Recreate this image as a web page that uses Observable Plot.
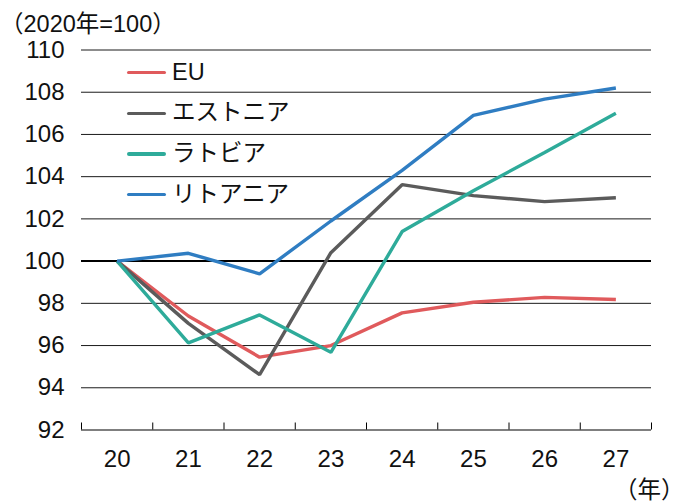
<!DOCTYPE html>
<html>
<head>
<meta charset="utf-8">
<script src="https://cdn.jsdelivr.net/npm/d3@7"></script>
<script src="https://cdn.jsdelivr.net/npm/@observablehq/plot@0.6"></script>
<style>
  html, body { margin: 0; padding: 0; background: #fff; }
  #chart {
    position: relative; width: 687px; height: 503px; overflow: hidden;
    font-family: "Liberation Sans", Arial, "Noto Sans CJK JP", sans-serif;
    color: #111;
  }
  #chart svg { position: absolute; left: 0; top: 0; }
  .note { position: absolute; font-size: 23.5px; white-space: nowrap; line-height: 1; }
  .legend { position: absolute; left: 127px; top: 52px; }
  .legend .item { display: flex; align-items: center; height: 40.8px; }
  .legend .swatch { width: 39px; height: 3.4px; border-radius: 2px; margin-right: 6px; }
  .legend .label { font-size: 23.5px; line-height: 1; white-space: nowrap; }
</style>
</head>
<body>
<div id="chart"></div>
<script>
// Year (last two digits) and index values, 2020 = 100
const years = [20, 21, 22, 23, 24, 25, 26, 27];
const eu = [100, 97.4, 95.45, 96.0, 97.55, 98.05, 98.28, 98.18];
const estonia = [100, 97.05, 94.62, 100.4, 103.62, 103.1, 102.82, 103.0];
const latvia = [100, 96.13, 97.45, 95.68, 101.4, 103.33, 105.15, 107.0];
const lithuania = [100, 100.37, 99.4, 101.9, 104.3, 106.9, 107.67, 108.2];

const seriesNames = ["EU", "エストニア", "ラトビア", "リトアニア"];
const seriesColors = ["#e05a5c", "#5b5b5b", "#2eab9a", "#2f7dc2"];
const seriesValues = [eu, estonia, latvia, lithuania];

const yTicks = [92, 94, 96, 98, 100, 102, 104, 106, 108, 110];
const title = "（2020年=100）";
const xUnit = "（年）";

// long-format table for the line mark
const rows = seriesValues.flatMap((vals, i) =>
  vals.map((v, j) => ({series: seriesNames[i], year: years[j], value: v}))
);

const font = '"Liberation Sans", Arial, "Noto Sans CJK JP", sans-serif';
// band edges between years, used for the baseline tick marks
const bounds = years.map(y => y - 0.5).concat([years[years.length - 1] + 0.5]);

const plot = Plot.plot({
  width: 687,
  height: 503,
  marginLeft: 81,
  marginRight: 36,
  marginTop: 49.5,
  marginBottom: 73.5,
  style: {fontFamily: font, fontSize: "24px", color: "#111", background: "transparent"},
  x: {type: "linear", domain: [bounds[0], bounds[bounds.length - 1]]},
  y: {domain: [92, 110]},
  color: {domain: seriesNames, range: seriesColors},
  marks: [
    Plot.ruleY(yTicks.filter(t => t !== 92 && t !== 100), {stroke: "#1a1a1a", strokeWidth: 1}),
    Plot.ruleY([100], {stroke: "#000", strokeWidth: 2}),
    Plot.ruleY([92], {stroke: "#000", strokeWidth: 1.2}),
    Plot.axisY({ticks: yTicks, tickSize: 0, tickPadding: 17, tickFormat: d => String(d), label: null, fontSize: 24}),
    Plot.axisX({ticks: bounds, tickSize: -7, tickFormat: () => "", label: null, stroke: "#000"}),
    Plot.axisX({ticks: years, tickSize: 0, tickPadding: 20, tickFormat: d => String(d), label: null, fontSize: 24}),
    Plot.line(rows, {x: "year", y: "value", stroke: "series", z: "series", strokeWidth: 3.4, strokeLinejoin: "miter", strokeLinecap: "butt"})
  ]
});

const chart = document.getElementById("chart");
chart.appendChild(plot);

const t = document.createElement("div");
t.className = "note";
t.style.left = "0px"; t.style.top = "12.5px";
t.textContent = title;
chart.appendChild(t);

const u = document.createElement("div");
u.className = "note";
u.style.left = "614px"; u.style.top = "479px";
u.textContent = xUnit;
chart.appendChild(u);

const legend = document.createElement("div");
legend.className = "legend";
seriesNames.forEach((name, i) => {
  const item = document.createElement("div");
  item.className = "item";
  const sw = document.createElement("div");
  sw.className = "swatch";
  sw.style.background = seriesColors[i];
  const lb = document.createElement("span");
  lb.className = "label";
  lb.textContent = name;
  item.appendChild(sw); item.appendChild(lb);
  legend.appendChild(item);
});
chart.appendChild(legend);
</script>
</body>
</html>
